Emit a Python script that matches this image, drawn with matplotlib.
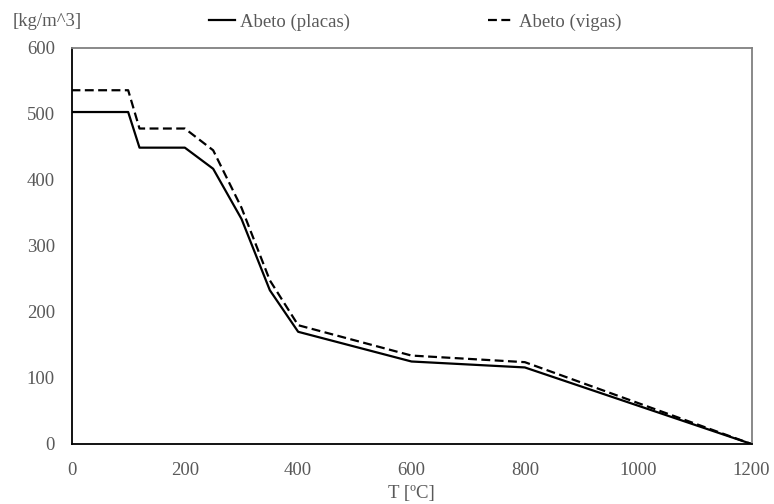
import matplotlib
matplotlib.use("Agg")
import matplotlib.pyplot as plt

T_placas = [0, 100, 120, 200, 250, 300, 350, 400, 600, 800, 1200]
rho_placas = [503, 503, 449, 449, 417, 341, 233, 170, 125, 116, 0]
T_vigas = [0, 100, 120, 200, 250, 300, 350, 400, 600, 800, 1200]
rho_vigas = [536, 536, 478, 478, 445, 358, 248, 180, 134, 124, 0]
xticks = [0, 200, 400, 600, 800, 1000, 1200]
yticks = [0, 100, 200, 300, 400, 500, 600]

plt.rcParams['font.family'] = ['Liberation Serif', 'DejaVu Serif']
FS = 13.5
GRAY = '#595959'

fig = plt.figure(figsize=(7.74, 5.04), dpi=100)
ax = fig.add_axes([71.5/774, 1 - 444/504, (751.5 - 71.5)/774, (444 - 48)/504])

l1, = ax.plot(T_placas, rho_placas, color='black', lw=1.6, label='Abeto (placas)')
l2, = ax.plot(T_vigas, rho_vigas, color='black', lw=1.6, ls=(0, (4, 2)), label='Abeto (vigas)')

ax.set_xlim(0, 1200)
ax.set_ylim(0, 600)
ax.set_xticks(xticks)
ax.set_yticks(yticks)
ax.tick_params(length=0, labelsize=FS, colors=GRAY)
ax.tick_params(axis='y', pad=12)
ax.tick_params(axis='x', pad=13)
for s in ['left', 'bottom']:
    ax.spines[s].set_color('black')
    ax.spines[s].set_linewidth(1.3)
for s in ['top', 'right']:
    ax.spines[s].set_color('#808080')
    ax.spines[s].set_linewidth(1.3)

ax.set_xlabel('T [ºC]', fontsize=FS, color=GRAY, labelpad=4)
fig.text(13/774, 1 - 21/504, '[kg/m^3]', fontsize=FS, color=GRAY, va='center', ha='left')

leg = fig.legend(handles=[l1, l2], loc='center left', bbox_to_anchor=(209/774, 1 - 22/504),
                 ncol=2, frameon=False, fontsize=FS, handlelength=1.4, handletextpad=0.25,
                 columnspacing=7.35, borderpad=0, borderaxespad=0)
for t in leg.get_texts():
    t.set_color(GRAY)

fig.savefig('out.png', dpi=100)
